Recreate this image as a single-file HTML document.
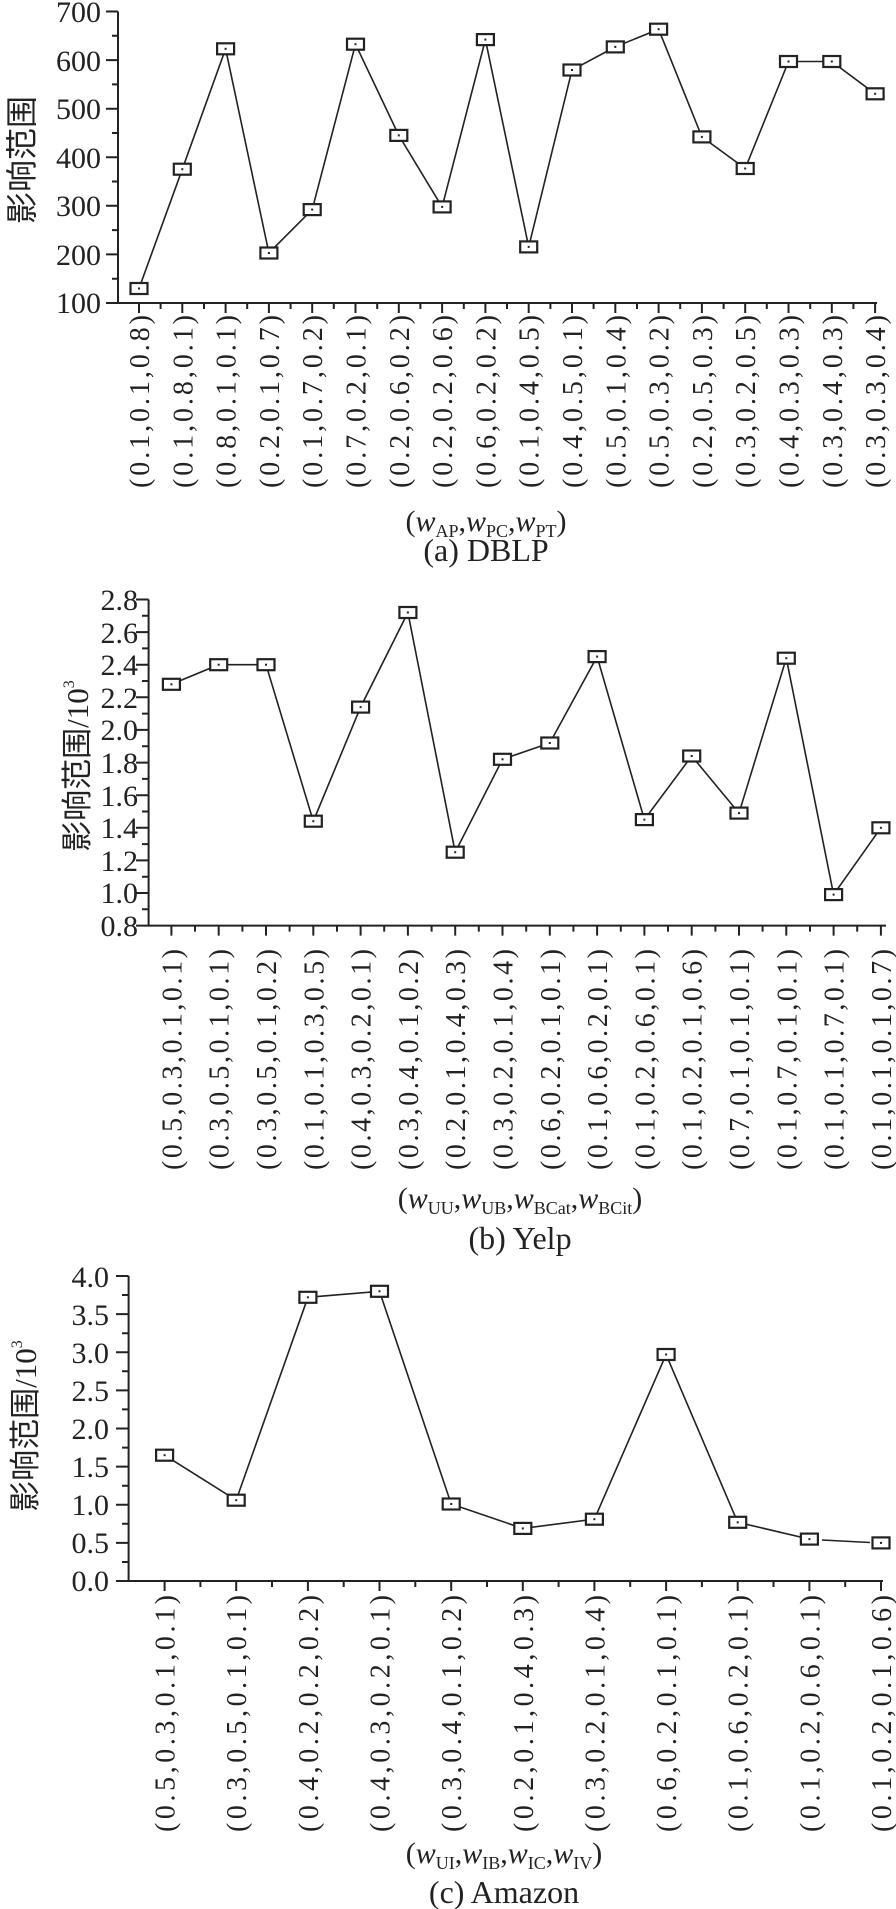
<!DOCTYPE html>
<html><head><meta charset="utf-8"><style>
html,body{margin:0;padding:0;background:#fff;}
svg{display:block;}
text{font-family:"Liberation Serif","Noto Serif CJK SC",serif;fill:#222;}
.cj{font-family:"Liberation Serif","Noto Sans CJK SC",sans-serif;}
.ax{stroke:#222;stroke-width:2;fill:none;}
.ln{stroke:#222;stroke-width:1.6;fill:none;}
.mk{fill:#fff;stroke:#222;stroke-width:2.2;}
.tk{font-size:30px;}
.xl{font-size:28px;}
</style></head><body>
<svg width="896" height="1909" viewBox="0 0 896 1909" xmlns="http://www.w3.org/2000/svg">
<defs>
<g id="m"><rect class="mk" x="-8.5" y="-5.5" width="17" height="11"/><rect x="-1" y="-1" width="2" height="2" fill="#222"/></g>
</defs>

<!-- ===== (a) DBLP ===== -->
<path class="ax" d="M118,11.5V303H877"/>
<path class="ax" d="M106,11.5H118M106,60.1H118M106,108.7H118M106,157.2H118M106,205.8H118M106,254.4H118M106,303H118
M112,35.8H118M112,84.4H118M112,133H118M112,181.5H118M112,230.1H118M112,278.7H118"/>
<g class="tk" text-anchor="end">
<text x="101" y="22">700</text><text x="101" y="71">600</text><text x="101" y="119">500</text><text x="101" y="168">400</text><text x="101" y="216">300</text><text x="101" y="265">200</text><text x="101" y="313">100</text>
</g>
<text class="cj" font-size="32" text-anchor="middle" transform="translate(33,160) rotate(-90)">影响范围</text>
<path class="ax" d="M139,303v10M182.3,303v10M225.6,303v10M268.9,303v10M312.2,303v10M355.5,303v10M398.8,303v10M442.1,303v10M485.4,303v10M528.7,303v10M572,303v10M615.3,303v10M658.6,303v10M701.9,303v10M745.2,303v10M788.5,303v10M831.8,303v10M875.1,303v10
M160.6,303v6M204,303v6M247.2,303v6M290.6,303v6M333.8,303v6M377.2,303v6M420.4,303v6M463.8,303v6M507,303v6M550.4,303v6M593.6,303v6M637,303v6M680.2,303v6M723.6,303v6M766.8,303v6M810.2,303v6M853.4,303v6"/>
<polyline class="ln" points="139,288.5 182.3,169.2 225.6,48.8 268.9,253 312.2,209.6 355.5,44.2 398.8,135.4 442.1,206.9 485.4,39.6 528.7,246.9 572,70 615.3,46.9 658.6,29.2 701.9,136.9 745.2,168.5 788.5,61.5 831.8,61.5 875.1,93.8"/>
<use href="#m" x="139" y="288.5"/><use href="#m" x="182.3" y="169.2"/><use href="#m" x="225.6" y="48.8"/><use href="#m" x="268.9" y="253"/><use href="#m" x="312.2" y="209.6"/><use href="#m" x="355.5" y="44.2"/><use href="#m" x="398.8" y="135.4"/><use href="#m" x="442.1" y="206.9"/><use href="#m" x="485.4" y="39.6"/><use href="#m" x="528.7" y="246.9"/><use href="#m" x="572" y="70"/><use href="#m" x="615.3" y="46.9"/><use href="#m" x="658.6" y="29.2"/><use href="#m" x="701.9" y="136.9"/><use href="#m" x="745.2" y="168.5"/><use href="#m" x="788.5" y="61.5"/><use href="#m" x="831.8" y="61.5"/><use href="#m" x="875.1" y="93.8"/>
<g class="xl">
<text transform="translate(149,488) rotate(-90)" textLength="173" lengthAdjust="spacing">(0.1,0.1,0.8)</text>
<text transform="translate(192.3,488) rotate(-90)" textLength="173" lengthAdjust="spacing">(0.1,0.8,0.1)</text>
<text transform="translate(235.6,488) rotate(-90)" textLength="173" lengthAdjust="spacing">(0.8,0.1,0.1)</text>
<text transform="translate(278.9,488) rotate(-90)" textLength="173" lengthAdjust="spacing">(0.2,0.1,0.7)</text>
<text transform="translate(322.2,488) rotate(-90)" textLength="173" lengthAdjust="spacing">(0.1,0.7,0.2)</text>
<text transform="translate(365.5,488) rotate(-90)" textLength="173" lengthAdjust="spacing">(0.7,0.2,0.1)</text>
<text transform="translate(408.8,488) rotate(-90)" textLength="173" lengthAdjust="spacing">(0.2,0.6,0.2)</text>
<text transform="translate(452.1,488) rotate(-90)" textLength="173" lengthAdjust="spacing">(0.2,0.2,0.6)</text>
<text transform="translate(495.4,488) rotate(-90)" textLength="173" lengthAdjust="spacing">(0.6,0.2,0.2)</text>
<text transform="translate(538.7,488) rotate(-90)" textLength="173" lengthAdjust="spacing">(0.1,0.4,0.5)</text>
<text transform="translate(582,488) rotate(-90)" textLength="173" lengthAdjust="spacing">(0.4,0.5,0.1)</text>
<text transform="translate(625.3,488) rotate(-90)" textLength="173" lengthAdjust="spacing">(0.5,0.1,0.4)</text>
<text transform="translate(668.6,488) rotate(-90)" textLength="173" lengthAdjust="spacing">(0.5,0.3,0.2)</text>
<text transform="translate(711.9,488) rotate(-90)" textLength="173" lengthAdjust="spacing">(0.2,0.5,0.3)</text>
<text transform="translate(755.2,488) rotate(-90)" textLength="173" lengthAdjust="spacing">(0.3,0.2,0.5)</text>
<text transform="translate(798.5,488) rotate(-90)" textLength="173" lengthAdjust="spacing">(0.4,0.3,0.3)</text>
<text transform="translate(841.8,488) rotate(-90)" textLength="173" lengthAdjust="spacing">(0.3,0.4,0.3)</text>
<text transform="translate(885.1,488) rotate(-90)" textLength="173" lengthAdjust="spacing">(0.3,0.3,0.4)</text>
</g>
<text x="486" y="531" font-size="30" text-anchor="middle">(<tspan font-style="italic">w</tspan><tspan font-size="18" dy="6">AP</tspan><tspan dy="-6">,</tspan><tspan font-style="italic">w</tspan><tspan font-size="18" dy="6">PC</tspan><tspan dy="-6">,</tspan><tspan font-style="italic">w</tspan><tspan font-size="18" dy="6">PT</tspan><tspan dy="-6">)</tspan></text>
<text x="486" y="561" font-size="32" text-anchor="middle">(a) DBLP</text>

<!-- ===== (b) Yelp ===== -->
<path class="ax" d="M148.6,599.5V925.6H886"/>
<path class="ax" d="M136,599.5h12.6M136,632.1h12.6M136,664.7h12.6M136,697.3h12.6M136,729.9h12.6M136,762.6h12.6M136,795.2h12.6M136,827.8h12.6M136,860.4h12.6M136,893h12.6M136,925.6h12.6
M142,615.8h6.6M142,648.4h6.6M142,681h6.6M142,713.6h6.6M142,746.2h6.6M142,778.9h6.6M142,811.5h6.6M142,844.1h6.6M142,876.7h6.6M142,909.3h6.6"/>
<g class="tk" text-anchor="end">
<text x="138" y="610">2.8</text><text x="138" y="643">2.6</text><text x="138" y="675">2.4</text><text x="138" y="708">2.2</text><text x="138" y="740">2.0</text><text x="138" y="773">1.8</text><text x="138" y="806">1.6</text><text x="138" y="838">1.4</text><text x="138" y="871">1.2</text><text x="138" y="903">1.0</text><text x="138" y="936">0.8</text>
</g>
<text class="cj" font-size="31" text-anchor="middle" transform="translate(88,766) rotate(-90)">影响范围/10<tspan font-size="16" dy="-14">3</tspan></text>
<path class="ax" d="M171.4,925.6v10M218.7,925.6v10M266,925.6v10M313.3,925.6v10M360.6,925.6v10M407.9,925.6v10M455.2,925.6v10M502.5,925.6v10M549.8,925.6v10M597.1,925.6v10M644.4,925.6v10M691.7,925.6v10M739,925.6v10M786.3,925.6v10M833.6,925.6v10M880.9,925.6v10
M195,925.6v6M242.4,925.6v6M289.6,925.6v6M337,925.6v6M384.2,925.6v6M431.6,925.6v6M478.8,925.6v6M526.2,925.6v6M573.4,925.6v6M620.8,925.6v6M668,925.6v6M715.4,925.6v6M762.6,925.6v6M810,925.6v6M857.2,925.6v6"/>
<polyline class="ln" points="171.4,684.3 218.7,664.7 266,664.7 313.3,821.2 360.6,707.1 407.9,612.5 455.2,852.2 502.5,759.3 549.8,743 597.1,656.6 644.4,819.6 691.7,756 739,813.1 786.3,658.2 833.6,894.6 880.9,827.8"/>
<use href="#m" x="171.4" y="684.3"/><use href="#m" x="218.7" y="664.7"/><use href="#m" x="266" y="664.7"/><use href="#m" x="313.3" y="821.2"/><use href="#m" x="360.6" y="707.1"/><use href="#m" x="407.9" y="612.5"/><use href="#m" x="455.2" y="852.2"/><use href="#m" x="502.5" y="759.3"/><use href="#m" x="549.8" y="743"/><use href="#m" x="597.1" y="656.6"/><use href="#m" x="644.4" y="819.6"/><use href="#m" x="691.7" y="756"/><use href="#m" x="739" y="813.1"/><use href="#m" x="786.3" y="658.2"/><use href="#m" x="833.6" y="894.6"/><use href="#m" x="880.9" y="827.8"/>
<g class="xl">
<text transform="translate(181.4,1170) rotate(-90)" textLength="221" lengthAdjust="spacing">(0.5,0.3,0.1,0.1)</text>
<text transform="translate(228.7,1170) rotate(-90)" textLength="221" lengthAdjust="spacing">(0.3,0.5,0.1,0.1)</text>
<text transform="translate(276,1170) rotate(-90)" textLength="221" lengthAdjust="spacing">(0.3,0.5,0.1,0.2)</text>
<text transform="translate(323.3,1170) rotate(-90)" textLength="221" lengthAdjust="spacing">(0.1,0.1,0.3,0.5)</text>
<text transform="translate(370.6,1170) rotate(-90)" textLength="221" lengthAdjust="spacing">(0.4,0.3,0.2,0.1)</text>
<text transform="translate(417.9,1170) rotate(-90)" textLength="221" lengthAdjust="spacing">(0.3,0.4,0.1,0.2)</text>
<text transform="translate(465.2,1170) rotate(-90)" textLength="221" lengthAdjust="spacing">(0.2,0.1,0.4,0.3)</text>
<text transform="translate(512.5,1170) rotate(-90)" textLength="221" lengthAdjust="spacing">(0.3,0.2,0.1,0.4)</text>
<text transform="translate(559.8,1170) rotate(-90)" textLength="221" lengthAdjust="spacing">(0.6,0.2,0.1,0.1)</text>
<text transform="translate(607.1,1170) rotate(-90)" textLength="221" lengthAdjust="spacing">(0.1,0.6,0.2,0.1)</text>
<text transform="translate(654.4,1170) rotate(-90)" textLength="221" lengthAdjust="spacing">(0.1,0.2,0.6,0.1)</text>
<text transform="translate(701.7,1170) rotate(-90)" textLength="221" lengthAdjust="spacing">(0.1,0.2,0.1,0.6)</text>
<text transform="translate(749,1170) rotate(-90)" textLength="221" lengthAdjust="spacing">(0.7,0.1,0.1,0.1)</text>
<text transform="translate(796.3,1170) rotate(-90)" textLength="221" lengthAdjust="spacing">(0.1,0.7,0.1,0.1)</text>
<text transform="translate(843.6,1170) rotate(-90)" textLength="221" lengthAdjust="spacing">(0.1,0.1,0.7,0.1)</text>
<text transform="translate(890.9,1170) rotate(-90)" textLength="221" lengthAdjust="spacing">(0.1,0.1,0.1,0.7)</text>
</g>
<text x="520" y="1208" font-size="30" text-anchor="middle">(<tspan font-style="italic">w</tspan><tspan font-size="18" dy="6">UU</tspan><tspan dy="-6">,</tspan><tspan font-style="italic">w</tspan><tspan font-size="18" dy="6">UB</tspan><tspan dy="-6">,</tspan><tspan font-style="italic">w</tspan><tspan font-size="18" dy="6">BCat</tspan><tspan dy="-6">,</tspan><tspan font-style="italic">w</tspan><tspan font-size="18" dy="6">BCit</tspan><tspan dy="-6">)</tspan></text>
<text x="520" y="1249" font-size="32" text-anchor="middle">(b) Yelp</text>

<!-- ===== (c) Amazon ===== -->
<path class="ax" d="M128.6,1276V1581H883"/>
<path class="ax" d="M116,1276h12.6M116,1314.1h12.6M116,1352.3h12.6M116,1390.4h12.6M116,1428.5h12.6M116,1466.6h12.6M116,1504.8h12.6M116,1542.9h12.6M116,1581h12.6
M122,1295h6.6M122,1333.2h6.6M122,1371.3h6.6M122,1409.4h6.6M122,1447.6h6.6M122,1485.7h6.6M122,1523.8h6.6M122,1562h6.6"/>
<g class="tk" text-anchor="end">
<text x="109" y="1287">4.0</text><text x="109" y="1325">3.5</text><text x="109" y="1363">3.0</text><text x="109" y="1401">2.5</text><text x="109" y="1439">2.0</text><text x="109" y="1477">1.5</text><text x="109" y="1515">1.0</text><text x="109" y="1553">0.5</text><text x="109" y="1591">0.0</text>
</g>
<text class="cj" font-size="31" text-anchor="middle" transform="translate(36,1426) rotate(-90)">影响范围/10<tspan font-size="16" dy="-14">3</tspan></text>
<path class="ax" d="M164.6,1581v10M236.2,1581v10M307.9,1581v10M379.5,1581v10M451.2,1581v10M522.8,1581v10M594.4,1581v10M666.1,1581v10M737.7,1581v10M809.4,1581v10M881,1581v10
M200.4,1581v6M272,1581v6M343.7,1581v6M415.3,1581v6M487,1581v6M558.6,1581v6M630.2,1581v6M701.9,1581v6M773.5,1581v6M845.2,1581v6"/>
<polyline class="ln" points="164.6,1455.2 236.2,1500.2 307.9,1297.3 379.5,1291.3 451.2,1504 522.8,1528.4 594.4,1519.2 666.1,1354.5 737.7,1522.3 809.4,1539.1"/>
<line class="ln" x1="822" y1="1540" x2="870" y2="1542.5"/>
<use href="#m" x="164.6" y="1455.2"/><use href="#m" x="236.2" y="1500.2"/><use href="#m" x="307.9" y="1297.3"/><use href="#m" x="379.5" y="1291.3"/><use href="#m" x="451.2" y="1504"/><use href="#m" x="522.8" y="1528.4"/><use href="#m" x="594.4" y="1519.2"/><use href="#m" x="666.1" y="1354.5"/><use href="#m" x="737.7" y="1522.3"/><use href="#m" x="809.4" y="1539.1"/><use href="#m" x="881" y="1542.9"/>
<g class="xl">
<text transform="translate(174.6,1832) rotate(-90)" textLength="237" lengthAdjust="spacing">(0.5,0.3,0.1,0.1)</text>
<text transform="translate(246.2,1832) rotate(-90)" textLength="237" lengthAdjust="spacing">(0.3,0.5,0.1,0.1)</text>
<text transform="translate(317.9,1832) rotate(-90)" textLength="237" lengthAdjust="spacing">(0.4,0.2,0.2,0.2)</text>
<text transform="translate(389.5,1832) rotate(-90)" textLength="237" lengthAdjust="spacing">(0.4,0.3,0.2,0.1)</text>
<text transform="translate(461.2,1832) rotate(-90)" textLength="237" lengthAdjust="spacing">(0.3,0.4,0.1,0.2)</text>
<text transform="translate(532.8,1832) rotate(-90)" textLength="237" lengthAdjust="spacing">(0.2,0.1,0.4,0.3)</text>
<text transform="translate(604.4,1832) rotate(-90)" textLength="237" lengthAdjust="spacing">(0.3,0.2,0.1,0.4)</text>
<text transform="translate(676.1,1832) rotate(-90)" textLength="237" lengthAdjust="spacing">(0.6,0.2,0.1,0.1)</text>
<text transform="translate(747.7,1832) rotate(-90)" textLength="237" lengthAdjust="spacing">(0.1,0.6,0.2,0.1)</text>
<text transform="translate(819.4,1832) rotate(-90)" textLength="237" lengthAdjust="spacing">(0.1,0.2,0.6,0.1)</text>
<text transform="translate(891,1832) rotate(-90)" textLength="237" lengthAdjust="spacing">(0.1,0.2,0.1,0.6)</text>
</g>
<text x="504" y="1863" font-size="30" text-anchor="middle">(<tspan font-style="italic">w</tspan><tspan font-size="18" dy="6">UI</tspan><tspan dy="-6">,</tspan><tspan font-style="italic">w</tspan><tspan font-size="18" dy="6">IB</tspan><tspan dy="-6">,</tspan><tspan font-style="italic">w</tspan><tspan font-size="18" dy="6">IC</tspan><tspan dy="-6">,</tspan><tspan font-style="italic">w</tspan><tspan font-size="18" dy="6">IV</tspan><tspan dy="-6">)</tspan></text>
<text x="504" y="1903" font-size="32" text-anchor="middle">(c) Amazon</text>
</svg>
</body></html>
